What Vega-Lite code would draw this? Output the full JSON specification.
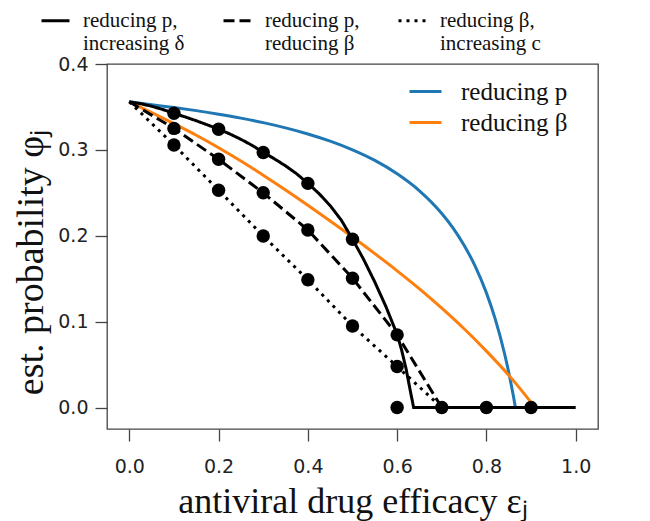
{
  "$schema": "https://vega.github.io/schema/vega-lite/v6.json",
  "autosize": "none",
  "width": 491,
  "height": 365,
  "padding": {"left": 107, "top": 64, "right": 52, "bottom": 92},
  "background": "white",
  "config": {
    "view": {"stroke": "#444", "strokeWidth": 1.3},
    "axis": {
      "grid": false, "domain": false,
      "tickColor": "#444", "tickWidth": 1.3, "tickSize": 12,
      "labelFont": "DejaVu Sans", "labelFontSize": 19, "labelColor": "#222",
      "titleFont": "Liberation Serif", "titleFontSize": 36, "titleFontWeight": "normal", "titleColor": "#111"
    },
    "legend": {
      "labelFont": "Liberation Serif", "labelColor": "#111", "labelLimit": 400
    }
  },
  "datasets": {
    "curves": [
      {"x": 0, "y": 0.356, "s": "reducing p"},
      {"x": 0.05, "y": 0.3526, "s": "reducing p"},
      {"x": 0.1, "y": 0.3493, "s": "reducing p"},
      {"x": 0.15, "y": 0.3457, "s": "reducing p"},
      {"x": 0.2, "y": 0.3416, "s": "reducing p"},
      {"x": 0.25, "y": 0.337, "s": "reducing p"},
      {"x": 0.3, "y": 0.3317, "s": "reducing p"},
      {"x": 0.35, "y": 0.3256, "s": "reducing p"},
      {"x": 0.4, "y": 0.3185, "s": "reducing p"},
      {"x": 0.45, "y": 0.3101, "s": "reducing p"},
      {"x": 0.5, "y": 0.3, "s": "reducing p"},
      {"x": 0.55, "y": 0.2877, "s": "reducing p"},
      {"x": 0.6, "y": 0.2722, "s": "reducing p"},
      {"x": 0.65, "y": 0.2524, "s": "reducing p"},
      {"x": 0.7, "y": 0.226, "s": "reducing p"},
      {"x": 0.725, "y": 0.2093, "s": "reducing p"},
      {"x": 0.75, "y": 0.189, "s": "reducing p"},
      {"x": 0.775, "y": 0.1644, "s": "reducing p"},
      {"x": 0.8, "y": 0.1335, "s": "reducing p"},
      {"x": 0.82, "y": 0.1027, "s": "reducing p"},
      {"x": 0.84, "y": 0.0641, "s": "reducing p"},
      {"x": 0.85, "y": 0.041, "s": "reducing p"},
      {"x": 0.86, "y": 0.0146, "s": "reducing p"},
      {"x": 0.865, "y": 0, "s": "reducing p"},
      {"x": 0, "y": 0.356, "s": "reducing β"},
      {"x": 0.05, "y": 0.3435, "s": "reducing β"},
      {"x": 0.1, "y": 0.3305, "s": "reducing β"},
      {"x": 0.15, "y": 0.317, "s": "reducing β"},
      {"x": 0.2, "y": 0.3025, "s": "reducing β"},
      {"x": 0.25, "y": 0.287, "s": "reducing β"},
      {"x": 0.3, "y": 0.2705, "s": "reducing β"},
      {"x": 0.35, "y": 0.2533, "s": "reducing β"},
      {"x": 0.4, "y": 0.2355, "s": "reducing β"},
      {"x": 0.45, "y": 0.2173, "s": "reducing β"},
      {"x": 0.5, "y": 0.1985, "s": "reducing β"},
      {"x": 0.55, "y": 0.1792, "s": "reducing β"},
      {"x": 0.6, "y": 0.1592, "s": "reducing β"},
      {"x": 0.65, "y": 0.1382, "s": "reducing β"},
      {"x": 0.7, "y": 0.1157, "s": "reducing β"},
      {"x": 0.75, "y": 0.0917, "s": "reducing β"},
      {"x": 0.8, "y": 0.0657, "s": "reducing β"},
      {"x": 0.85, "y": 0.0377, "s": "reducing β"},
      {"x": 0.9, "y": 0.006, "s": "reducing β"},
      {"x": 0.909, "y": 0, "s": "reducing β"},
      {"x": 0, "y": 0.356, "s": "reducing p,|increasing δ"},
      {"x": 0.025, "y": 0.3538, "s": "reducing p,|increasing δ"},
      {"x": 0.05, "y": 0.3508, "s": "reducing p,|increasing δ"},
      {"x": 0.075, "y": 0.347, "s": "reducing p,|increasing δ"},
      {"x": 0.1, "y": 0.3426, "s": "reducing p,|increasing δ"},
      {"x": 0.125, "y": 0.3384, "s": "reducing p,|increasing δ"},
      {"x": 0.15, "y": 0.3339, "s": "reducing p,|increasing δ"},
      {"x": 0.175, "y": 0.3291, "s": "reducing p,|increasing δ"},
      {"x": 0.2, "y": 0.3241, "s": "reducing p,|increasing δ"},
      {"x": 0.225, "y": 0.3186, "s": "reducing p,|increasing δ"},
      {"x": 0.25, "y": 0.3123, "s": "reducing p,|increasing δ"},
      {"x": 0.275, "y": 0.3053, "s": "reducing p,|increasing δ"},
      {"x": 0.3, "y": 0.2971, "s": "reducing p,|increasing δ"},
      {"x": 0.325, "y": 0.2896, "s": "reducing p,|increasing δ"},
      {"x": 0.35, "y": 0.2814, "s": "reducing p,|increasing δ"},
      {"x": 0.375, "y": 0.2721, "s": "reducing p,|increasing δ"},
      {"x": 0.4, "y": 0.2611, "s": "reducing p,|increasing δ"},
      {"x": 0.425, "y": 0.2491, "s": "reducing p,|increasing δ"},
      {"x": 0.45, "y": 0.2351, "s": "reducing p,|increasing δ"},
      {"x": 0.475, "y": 0.2181, "s": "reducing p,|increasing δ"},
      {"x": 0.5, "y": 0.1961, "s": "reducing p,|increasing δ"},
      {"x": 0.525, "y": 0.1724, "s": "reducing p,|increasing δ"},
      {"x": 0.55, "y": 0.1461, "s": "reducing p,|increasing δ"},
      {"x": 0.575, "y": 0.1174, "s": "reducing p,|increasing δ"},
      {"x": 0.6, "y": 0.0851, "s": "reducing p,|increasing δ"},
      {"x": 0.61, "y": 0.0671, "s": "reducing p,|increasing δ"},
      {"x": 0.62, "y": 0.0451, "s": "reducing p,|increasing δ"},
      {"x": 0.63, "y": 0.0181, "s": "reducing p,|increasing δ"},
      {"x": 0.637, "y": 0, "s": "reducing p,|increasing δ"},
      {"x": 1.0, "y": 0, "s": "reducing p,|increasing δ"},
      {"x": 0, "y": 0.356, "s": "reducing p,|reducing β"},
      {"x": 0.1, "y": 0.325, "s": "reducing p,|reducing β"},
      {"x": 0.2, "y": 0.289, "s": "reducing p,|reducing β"},
      {"x": 0.3, "y": 0.25, "s": "reducing p,|reducing β"},
      {"x": 0.4, "y": 0.2067, "s": "reducing p,|reducing β"},
      {"x": 0.5, "y": 0.1506, "s": "reducing p,|reducing β"},
      {"x": 0.6, "y": 0.0846, "s": "reducing p,|reducing β"},
      {"x": 0.7, "y": 0, "s": "reducing p,|reducing β"},
      {"x": 0, "y": 0.356, "s": "reducing β,|increasing c"},
      {"x": 0.1, "y": 0.3057, "s": "reducing β,|increasing c"},
      {"x": 0.2, "y": 0.253, "s": "reducing β,|increasing c"},
      {"x": 0.3, "y": 0.1998, "s": "reducing β,|increasing c"},
      {"x": 0.4, "y": 0.1487, "s": "reducing β,|increasing c"},
      {"x": 0.5, "y": 0.095, "s": "reducing β,|increasing c"},
      {"x": 0.6, "y": 0.0477, "s": "reducing β,|increasing c"},
      {"x": 0.7, "y": 0, "s": "reducing β,|increasing c"}
    ],
    "pts": [
      {"x": 0.1, "y": 0.3426}, {"x": 0.1, "y": 0.325}, {"x": 0.1, "y": 0.3057},
      {"x": 0.2, "y": 0.324}, {"x": 0.2, "y": 0.289}, {"x": 0.2, "y": 0.253},
      {"x": 0.3, "y": 0.297}, {"x": 0.3, "y": 0.25}, {"x": 0.3, "y": 0.1998},
      {"x": 0.4, "y": 0.261}, {"x": 0.4, "y": 0.2067}, {"x": 0.4, "y": 0.1487},
      {"x": 0.5, "y": 0.196}, {"x": 0.5, "y": 0.1506}, {"x": 0.5, "y": 0.095},
      {"x": 0.6, "y": 0.0846}, {"x": 0.6, "y": 0.0477}, {"x": 0.6, "y": 0},
      {"x": 0.7, "y": 0}, {"x": 0.8, "y": 0}, {"x": 0.9, "y": 0}
    ]
  },
  "encoding": {
    "x": {"field": "x", "type": "quantitative",
      "scale": {"domain": [-0.05, 1.05], "nice": false, "zero": false},
      "axis": {"values": [0, 0.2, 0.4, 0.6, 0.8, 1.0], "format": ".1f", "labelPadding": 16,
        "title": "antiviral drug efficacy εⱼ", "titlePadding": 8}},
    "y": {"field": "y", "type": "quantitative",
      "scale": {"domain": [-0.025, 0.4], "nice": false, "zero": false},
      "axis": {"values": [0, 0.1, 0.2, 0.3, 0.4], "format": ".1f", "labelPadding": 7,
        "title": "est. probability φⱼ", "titlePadding": 7, "titleFontSize": 38, "titleY": 198}}
  },
  "layer": [
    {
      "data": {"name": "curves"},
      "transform": [{"filter": "datum.s === 'reducing p' || datum.s === 'reducing β'"}],
      "mark": {"type": "line", "strokeWidth": 3, "clip": true, "interpolate": "monotone"},
      "encoding": {
        "color": {"field": "s", "type": "nominal",
          "scale": {"domain": ["reducing p", "reducing β"], "range": ["#1f77b4", "#ff7f0e"]},
          "legend": {"title": null, "orient": "none", "legendX": 301, "legendY": 10,
            "symbolType": "stroke", "symbolSize": 1024, "symbolStrokeWidth": 3,
            "labelFontSize": 25, "labelOffset": 18, "rowPadding": 0, "padding": 0}}
      }
    },
    {
      "data": {"name": "curves"},
      "transform": [{"filter": "datum.s !== 'reducing p' && datum.s !== 'reducing β'"}],
      "mark": {"type": "line", "strokeWidth": 3, "color": "black", "strokeCap": "butt", "clip": true},
      "encoding": {
        "strokeDash": {"field": "s", "type": "nominal",
          "scale": {"domain": ["reducing p,|increasing δ", "reducing p,|reducing β", "reducing β,|increasing c"],
            "range": [[1, 0], [11, 5], [3, 5]]},
          "legend": {"title": null, "orient": "none", "direction": "horizontal", "legendX": -67, "legendY": -59,
            "symbolType": "stroke", "symbolSize": 784, "symbolStrokeWidth": 3, "symbolStrokeColor": "black",
            "labelExpr": "split(datum.label, '|')", "labelFontSize": 21, "labelOffset": 12,
            "columnPadding": 32, "padding": 0}}
      }
    },
    {
      "data": {"name": "pts"},
      "mark": {"type": "circle", "size": 180, "color": "black", "opacity": 1},
      "encoding": {}
    }
  ]
}
